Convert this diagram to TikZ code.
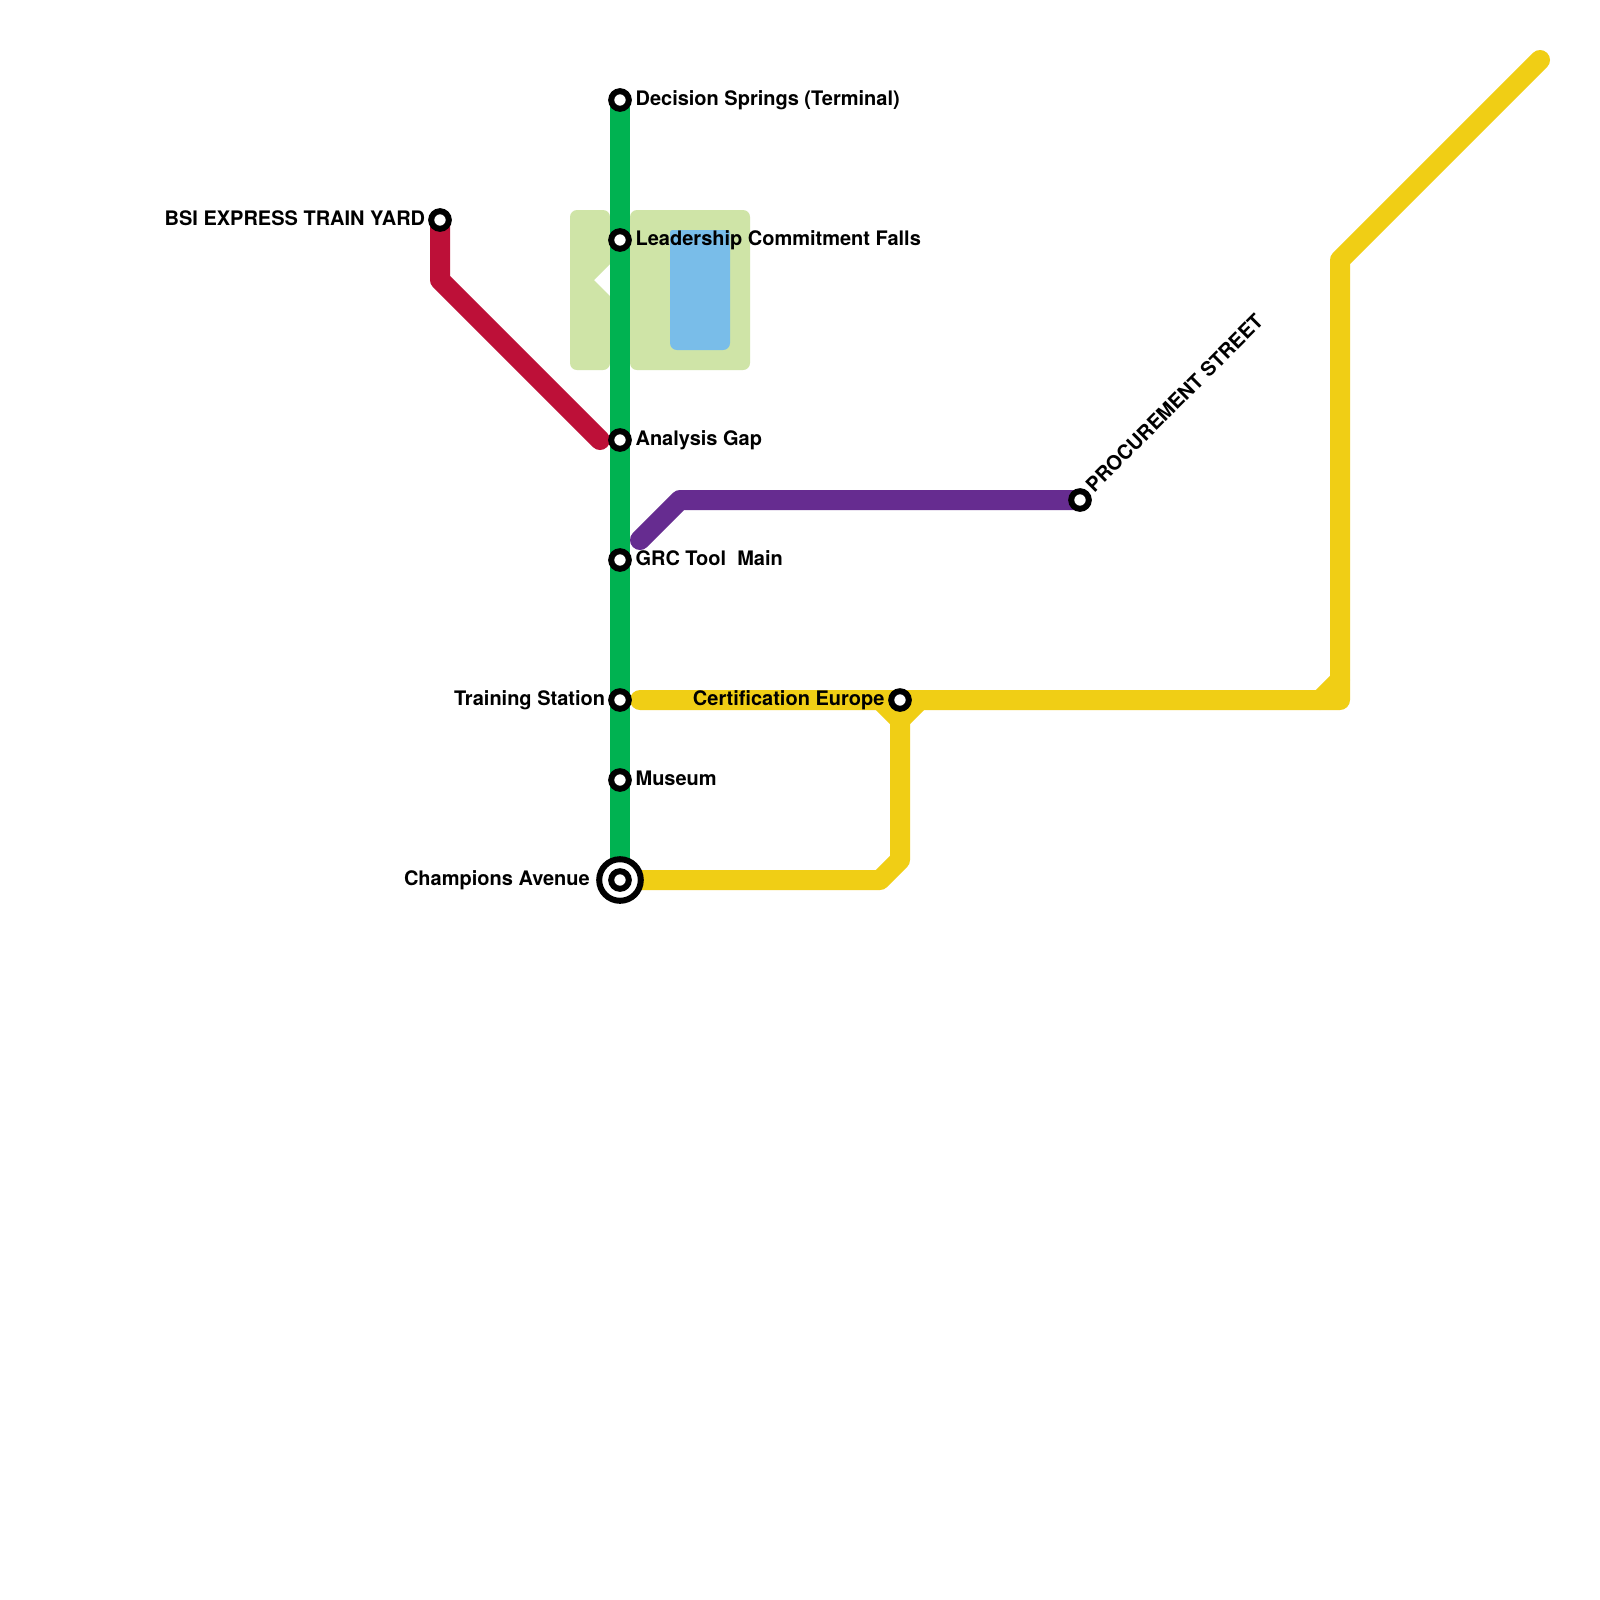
\documentclass[tikz,border=0pt]{standalone}
\usepackage{fontspec}
\setmainfont{TeX Gyre Heros}
\usetikzlibrary{positioning}
\definecolor{linegreen}{HTML}{00B251}
\definecolor{linered}{HTML}{BD1038}
\definecolor{lineyellow}{HTML}{F0CE15}
\definecolor{linepurple}{HTML}{662C90}
\definecolor{parkgreen}{HTML}{CFE4A7}
\definecolor{lakeblue}{HTML}{79BDE9}
\tikzset{
  metro/.style={line width=0.5cm,line cap=round,line join=round},
  station/.style={circle,draw=black,fill=white,line width=0.15cm,minimum size=0.44cm,inner sep=0pt},
  terminal/.style={circle,draw=black,fill=white,line width=0.15cm,minimum size=1.04cm,inner sep=0pt},
  stationlabel/.style={inner sep=0pt,font=\fontsize{14.22pt}{16pt}\selectfont\bfseries,text height=10.5pt,text depth=3pt},
}
\begin{document}
\begin{tikzpicture}
[x=0.5cm,y=-0.5cm]
\useasboundingbox (0,0) rectangle (80,80);
\fill[white] (0,0) rectangle (80,80);
% stops
\coordinate (decision) at (31,5);
\coordinate (leadership) at (31,12);
\coordinate (analysis) at (31,22);
\coordinate (grc) at (31,28);
\coordinate (training) at (31,35);
\coordinate (museum) at (31,39);
\coordinate (champions) at (31,44);
\coordinate (bsi) at (22,11);
\coordinate (procurement) at (54,25);
\coordinate (certification) at (45,35);
% park
\fill[parkgreen,rounded corners=0.175cm] (28.5,14) -- (28.5,10.5) -- (30.5,10.5) [sharp corners] -- (30.5,13.2) -- (29.7,14) -- (30.5,14.8) [rounded corners=0.175cm] -- (30.5,18.5) -- (28.5,18.5) -- cycle;
\fill[parkgreen,rounded corners=0.175cm] (31.5,10.5) rectangle (37.5,18.5);
% lake
\fill[lakeblue,rounded corners=0.06cm] (33.5,14) -- (33.5,11.5) -- (36.5,11.5) -- (36.5,14) [rounded corners=0.175cm] -- (36.5,17.5) -- (33.5,17.5) -- cycle;
% green line
\draw[metro,linegreen] (decision) -- (champions);
% red line
\coordinate (redbend) at (22,14);
\coordinate (redend) at (30,22);
\draw[metro,linered] (bsi) -- (redbend) -- (redend);
% purple line
\coordinate (purplestart) at (32,27);
\coordinate (purplebend) at (34,25);
\draw[metro,linepurple] (purplestart) -- (purplebend) -- (procurement);
% yellow line
\coordinate (yellowstart) at (32,35);
\coordinate (yellowcorner) at (67,35);
\coordinate (yellowtop) at (67,13);
\coordinate (yellowend) at (77,3);
\coordinate (cornerleft) at (66,35);
\coordinate (cornerup) at (67,34);
\draw[metro,lineyellow] (yellowstart) -- (yellowcorner) -- (yellowtop) -- (yellowend);
\draw[metro,lineyellow] (cornerleft) -- (cornerup);
% yellow branch
\coordinate (branchleft) at (44,35);
\coordinate (branchright) at (46,35);
\coordinate (branchtop) at (45,36);
\coordinate (branchbend) at (45,43);
\coordinate (branchfoot) at (44,44);
\draw[metro,lineyellow] (branchleft) -- (branchtop) -- (branchright);
\draw[metro,lineyellow] (branchtop) -- (branchbend) -- (branchfoot) -- (champions);
% stations
\node[station] (s-decision) at (decision) {};
\node[station] (s-leadership) at (leadership) {};
\node[station] (s-analysis) at (analysis) {};
\node[station] (s-grc) at (grc) {};
\node[station] (s-training) at (training) {};
\node[station] (s-museum) at (museum) {};
\node[terminal] (s-champions-outer) at (champions) {};
\node[station] (s-champions) at (champions) {};
\node[station] (s-bsi) at (bsi) {};
\node[station] (s-procurement) at (procurement) {};
\node[station] (s-certification) at (certification) {};
% names
\node[stationlabel,right=2.5pt of s-decision] (l-decision) {Decision Springs (Terminal)};
\node[stationlabel,right=2.5pt of s-leadership] (l-leadership) {Leadership Commitment Falls};
\node[stationlabel,right=2.5pt of s-analysis] (l-analysis) {Analysis Gap};
\node[stationlabel,right=2.5pt of s-grc] (l-grc) {GRC Tool\ \ Main};
\node[stationlabel,left=2pt of s-training] (l-training) {Training Station};
\node[stationlabel,right=2.5pt of s-museum] (l-museum) {Museum};
\node[stationlabel,left=4.4pt of s-champions-outer] (l-champions) {Champions Avenue};
\node[stationlabel,left=2pt of s-bsi] (l-bsi) {BSI EXPRESS TRAIN YARD};
\node[stationlabel,left=2.5pt of s-certification] (l-certification) {Certification Europe};
\node[stationlabel,rotate=45,anchor=west] (l-procurement) at ([shift={(0.52,-0.52)}]procurement) {PROCUREMENT STREET};
\end{tikzpicture}
\end{document}
